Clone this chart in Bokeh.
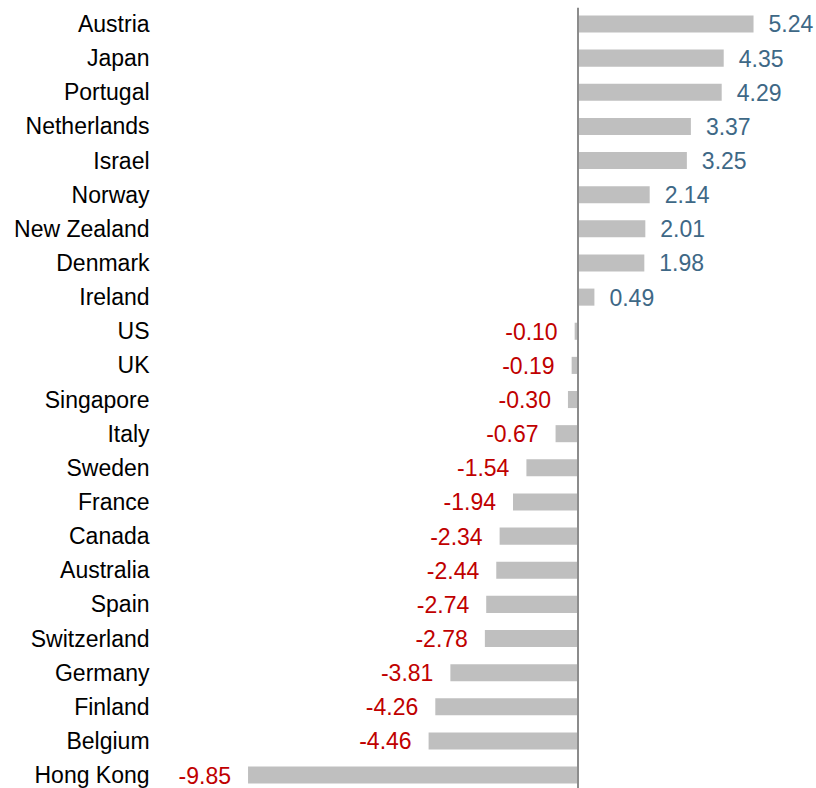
from bokeh.plotting import figure
from bokeh.models import ColumnDataSource, Range1d, Span
from bokeh.core.properties import value
from bokeh.embed import file_html
from bokeh.resources import INLINE

countries = ["Austria", "Japan", "Portugal", "Netherlands", "Israel", "Norway",
             "New Zealand", "Denmark", "Ireland", "US", "UK", "Singapore", "Italy",
             "Sweden", "France", "Canada", "Australia", "Spain", "Switzerland",
             "Germany", "Finland", "Belgium", "Hong Kong"]
values = [5.24, 4.35, 4.29, 3.37, 3.25, 2.14, 2.01, 1.98, 0.49, -0.10, -0.19, -0.30,
          -0.67, -1.54, -1.94, -2.34, -2.44, -2.74, -2.78, -3.81, -4.26, -4.46, -9.85]

n = len(countries)
ypos = [n - 1 - i for i in range(n)]
labels = ["%.2f" % v for v in values]

pos = [i for i, v in enumerate(values) if v >= 0]
neg = [i for i, v in enumerate(values) if v < 0]

src = ColumnDataSource(dict(y=ypos, v=values, c=countries, lab=labels,
                            zero=[0] * n, name_x=[-12.79] * n))
src_pos = ColumnDataSource(dict(y=[ypos[i] for i in pos], v=[values[i] for i in pos],
                                lab=[labels[i] for i in pos]))
src_neg = ColumnDataSource(dict(y=[ypos[i] for i in neg], v=[values[i] for i in neg],
                                lab=[labels[i] for i in neg]))

p = figure(width=816, height=788, output_backend="svg", toolbar_location=None,
           x_range=Range1d(-17.24, 7.12), y_range=Range1d(-0.393, 22.483),
           min_border=0, min_border_top=7, outline_line_color=None)
p.xaxis.visible = False
p.yaxis.visible = False
p.xgrid.visible = False
p.ygrid.visible = False

p.hbar(y="y", left="zero", right="v", height=0.5, source=src,
       fill_color="#BFBFBF", line_color=None)

p.add_layout(Span(location=0, dimension="height", line_color="#8C8C8C", line_width=2))

font = value("Liberation Sans")
p.text(x="name_x", y="y", text="c", source=src, text_align="right",
       text_baseline="middle", text_font=font, text_font_size="23px", text_color="#000000")
p.text(x="v", y="y", text="lab", source=src_pos, text_align="left", x_offset=15,
       text_baseline="middle", text_font=font, text_font_size="23px", text_color="#3E6886")
p.text(x="v", y="y", text="lab", source=src_neg, text_align="right", x_offset=-17,
       text_baseline="middle", text_font=font, text_font_size="23px", text_color="#C00000")

open("out.html", "w").write(file_html(p, INLINE))
